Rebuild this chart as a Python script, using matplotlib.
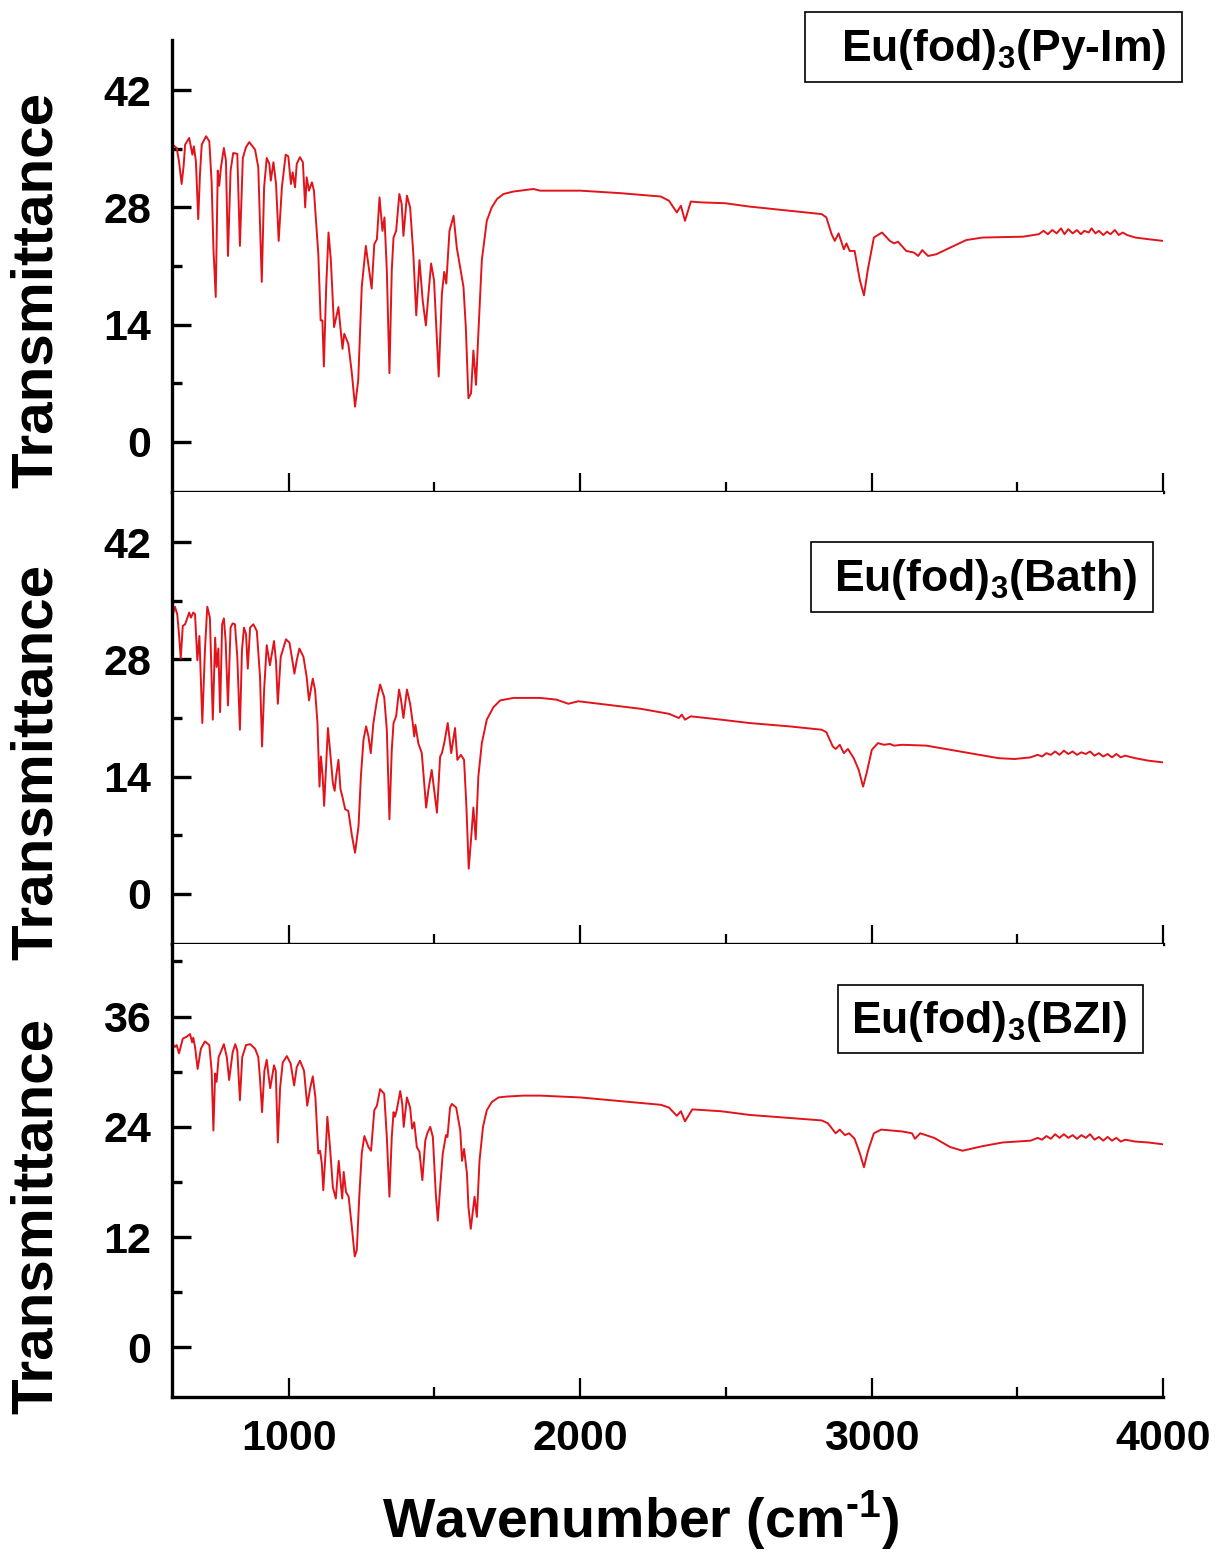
import matplotlib
matplotlib.use("Agg")
import matplotlib.pyplot as plt
from matplotlib.patches import Rectangle
from matplotlib.ticker import MultipleLocator

plt.rcParams["font.family"] = ["Liberation Sans", "DejaVu Sans"]
plt.rcParams["font.weight"] = "bold"
plt.rcParams["mathtext.fontset"] = "custom"
plt.rcParams["mathtext.rm"] = "Liberation Sans:bold"
plt.rcParams["mathtext.it"] = "Liberation Sans:bold"
plt.rcParams["mathtext.bf"] = "Liberation Sans:bold"

# ---- spectra (wavenumber cm-1, transmittance) ----
pyim_x = [600, 602, 616, 624, 633, 640, 645, 659, 670, 675, 682, 690, 696, 702, 717, 728, 736, 742, 750,
          757, 762, 768, 778, 785, 792, 801, 810, 824, 833, 843, 854, 865, 885, 896, 908, 916, 925, 934,
          939, 948, 957, 966, 977, 990, 999, 1008, 1014, 1022, 1028, 1039, 1049, 1057, 1062, 1070, 1080,
          1087, 1102, 1110, 1116, 1121, 1129, 1137, 1145, 1156, 1171, 1185, 1191, 1205, 1217, 1228, 1239,
          1251, 1265, 1285, 1294, 1303, 1312, 1322, 1329, 1337, 1346, 1354, 1360, 1369, 1380, 1388, 1394,
          1406, 1417, 1428, 1438, 1449, 1460, 1471, 1480, 1489, 1499, 1515, 1526, 1534, 1541, 1552, 1566,
          1577, 1600, 1608, 1617, 1626, 1634, 1643, 1651, 1663, 1680, 1697, 1715, 1737, 1772, 1840, 1863,
          2001, 2139, 2277, 2305, 2332, 2346, 2360, 2380, 2415, 2498, 2581, 2691, 2829, 2845, 2863, 2874,
          2887, 2905, 2914, 2925, 2942, 2960, 2974, 2987, 3008, 3036, 3063, 3077, 3091, 3119, 3146, 3160,
          3174, 3194, 3222, 3270, 3325, 3381, 3519, 3574, 3590, 3605, 3620, 3635, 3650, 3662, 3675, 3690,
          3705, 3718, 3730, 3745, 3755, 3768, 3780, 3795, 3808, 3820, 3835, 3848, 3862, 3877, 3905, 3950,
          4000]
pyim_y = [35.5, 35.5, 35.1, 33.5, 30.8, 33.0, 35.5, 36.3, 34.3, 35.3, 33.5, 26.6, 32.0, 35.5, 36.5, 35.9,
          31.0, 23.2, 17.3, 32.4, 30.6, 32.8, 35.1, 33.6, 22.2, 32.4, 34.5, 34.4, 23.4, 33.9, 35.2, 35.8,
          34.9, 32.8, 19.1, 30.4, 33.9, 33.2, 31.2, 33.4, 30.8, 24.0, 30.4, 34.3, 34.1, 30.8, 32.2, 30.4,
          33.2, 34.0, 33.4, 28.0, 31.6, 30.0, 31.0, 30.0, 22.4, 14.5, 14.5, 9.0, 18.5, 25.0, 21.7, 13.7,
          16.1, 11.1, 12.9, 11.7, 8.2, 4.2, 7.4, 18.5, 23.4, 18.3, 23.6, 24.2, 29.2, 25.2, 26.8, 20.5, 8.2,
          20.5, 24.4, 25.2, 29.6, 28.4, 24.6, 29.4, 28.0, 22.4, 15.1, 21.7, 16.9, 13.9, 17.7, 21.3, 19.3,
          7.8, 17.7, 20.3, 18.9, 25.2, 27.0, 23.2, 18.5, 13.7, 5.2, 5.8, 10.9, 6.8, 12.9, 21.7, 26.4, 28.0,
          29.0, 29.6, 29.9, 30.2, 30.0, 30.0, 29.7, 29.3, 28.8, 27.4, 28.2, 26.4, 28.7, 28.6, 28.5, 28.1,
          27.7, 27.2, 26.8, 24.8, 24.0, 24.9, 23.0, 23.7, 22.8, 22.8, 19.3, 17.5, 20.5, 24.4, 25.0, 24.0,
          23.7, 23.9, 22.8, 22.6, 22.2, 22.9, 22.2, 22.4, 23.2, 24.1, 24.4, 24.5, 24.8, 25.2, 24.8, 25.3,
          24.9, 25.5, 24.8, 25.4, 24.9, 25.3, 24.8, 25.2, 25.0, 25.5, 24.9, 25.2, 24.7, 25.1, 24.8, 25.3,
          24.7, 25.0, 24.7, 24.4, 24.2, 24.0]

bath_x = [600, 602, 610, 618, 624, 630, 637, 645, 659, 665, 673, 679, 687, 694, 704, 713, 721, 730, 740,
          748, 753, 759, 765, 772, 778, 784, 792, 801, 808, 816, 824, 833, 840, 847, 854, 860, 868, 879,
          891, 902, 909, 916, 925, 936, 950, 957, 963, 973, 991, 1003, 1011, 1020, 1028, 1037, 1051, 1062,
          1070, 1083, 1091, 1099, 1106, 1111, 1117, 1122, 1129, 1135, 1142, 1152, 1158, 1163, 1171, 1178,
          1186, 1194, 1205, 1217, 1228, 1240, 1248, 1257, 1266, 1274, 1282, 1291, 1303, 1314, 1328, 1337,
          1346, 1354, 1360, 1369, 1379, 1386, 1394, 1406, 1417, 1426, 1431, 1435, 1445, 1457, 1472, 1480,
          1491, 1499, 1509, 1520, 1526, 1534, 1546, 1558, 1571, 1579, 1591, 1602, 1610, 1618, 1626, 1634,
          1642, 1651, 1663, 1680, 1703, 1726, 1772, 1818, 1863, 1918, 1960, 1994, 2112, 2208, 2305, 2339,
          2349, 2360, 2380, 2484, 2581, 2718, 2829, 2845, 2867, 2877, 2891, 2905, 2919, 2939, 2956, 2971,
          2983, 3001, 3022, 3043, 3063, 3077, 3105, 3188, 3270, 3353, 3436, 3491, 3546, 3570, 3585, 3600,
          3615, 3630, 3645, 3660, 3675, 3690, 3705, 3720, 3735, 3750, 3765, 3780, 3795, 3810, 3825, 3840,
          3855, 3870, 3905, 3950, 4000]
bath_y = [33.5, 33.2, 34.3, 33.4, 31.0, 28.1, 32.0, 32.2, 33.6, 33.0, 33.6, 33.4, 27.9, 30.8, 20.4, 29.1,
          34.3, 33.0, 20.8, 30.6, 27.1, 29.3, 21.7, 32.2, 32.9, 30.2, 22.5, 31.8, 32.3, 32.2, 28.3, 19.6,
          29.1, 31.8, 31.0, 26.9, 31.8, 32.2, 31.4, 25.9, 17.6, 24.3, 29.7, 27.3, 30.2, 27.7, 22.7, 28.3,
          30.4, 30.0, 28.3, 26.3, 27.9, 29.3, 28.3, 25.9, 23.1, 25.7, 24.3, 20.4, 12.8, 16.4, 14.0, 10.5,
          15.6, 19.8, 17.2, 13.2, 12.3, 14.0, 16.0, 12.5, 11.4, 10.1, 9.9, 7.0, 4.9, 8.1, 14.0, 18.4, 20.0,
          18.8, 16.8, 20.4, 23.1, 25.0, 23.5, 19.6, 8.9, 17.2, 20.4, 21.2, 24.4, 23.1, 21.0, 24.4, 22.7,
          20.4, 18.8, 20.2, 18.0, 16.8, 10.3, 12.5, 14.8, 12.5, 9.7, 16.4, 16.8, 18.0, 20.4, 16.8, 19.8,
          16.0, 16.6, 16.0, 10.5, 3.0, 6.5, 10.3, 6.5, 14.0, 18.0, 20.8, 22.3, 23.1, 23.4, 23.4, 23.4,
          23.2, 22.7, 23.0, 22.5, 22.1, 21.5, 21.0, 21.4, 20.8, 21.2, 20.8, 20.4, 20.0, 19.6, 19.3, 17.6,
          17.3, 17.8, 16.8, 17.3, 16.2, 14.8, 12.8, 14.4, 17.2, 18.0, 17.8, 17.9, 17.7, 17.8, 17.7, 17.2,
          16.7, 16.2, 16.1, 16.3, 16.6, 16.4, 16.8, 16.6, 17.0, 16.6, 17.1, 16.7, 17.0, 16.6, 16.9, 16.7,
          17.0, 16.5, 16.8, 16.4, 16.7, 16.3, 16.7, 16.3, 16.5, 16.2, 15.9, 15.7]

bzi_x = [600, 602, 610, 616, 624, 637, 650, 662, 669, 673, 679, 688, 699, 713, 728, 736, 742, 748, 753,
         760, 768, 778, 788, 796, 803, 808, 817, 824, 833, 841, 854, 868, 885, 896, 902, 909, 917, 925,
         932, 937, 950, 956, 963, 971, 980, 994, 1007, 1019, 1028, 1039, 1053, 1064, 1074, 1083, 1092,
         1102, 1108, 1114, 1119, 1128, 1133, 1142, 1152, 1162, 1172, 1179, 1184, 1189, 1197, 1206, 1217,
         1227, 1234, 1243, 1251, 1260, 1274, 1283, 1294, 1303, 1314, 1328, 1337, 1346, 1354, 1360, 1365,
         1371, 1383, 1390, 1395, 1406, 1417, 1424, 1431, 1440, 1449, 1459, 1469, 1476, 1486, 1495, 1505,
         1512, 1520, 1529, 1540, 1545, 1554, 1560, 1575, 1589, 1595, 1602, 1612, 1617, 1625, 1631, 1638,
         1646, 1655, 1667, 1680, 1697, 1720, 1749, 1806, 1863, 2001, 2139, 2277, 2305, 2332, 2346, 2360,
         2385, 2484, 2581, 2829, 2850, 2877, 2891, 2909, 2923, 2942, 2960, 2974, 2988, 3008, 3033, 3105,
         3139, 3149, 3167, 3215, 3270, 3312, 3381, 3450, 3546, 3570, 3585, 3600, 3615, 3630, 3645, 3660,
         3675, 3690, 3705, 3720, 3735, 3750, 3765, 3780, 3795, 3810, 3825, 3840, 3855, 3870, 3905, 3950,
         4000]
bzi_y = [33.0, 33.0, 32.7, 32.9, 32.0, 33.6, 33.8, 34.1, 33.2, 33.7, 32.7, 30.3, 32.5, 33.3, 32.9, 30.1,
         23.6, 29.8, 28.9, 31.6, 32.2, 33.0, 31.6, 29.1, 30.9, 32.1, 33.0, 32.3, 26.9, 31.6, 32.9, 33.0,
         32.5, 31.6, 29.2, 25.6, 30.1, 31.3, 29.4, 28.2, 30.7, 30.1, 22.3, 28.3, 31.0, 31.7, 30.9, 28.5,
         30.5, 31.2, 30.1, 26.3, 28.2, 29.5, 27.2, 21.1, 21.4, 20.0, 17.1, 21.8, 25.1, 21.8, 17.4, 16.2,
         20.3, 17.8, 16.2, 19.1, 16.9, 16.4, 13.1, 9.9, 10.6, 16.7, 21.1, 23.0, 21.8, 21.4, 25.8, 26.3,
         28.1, 27.6, 22.9, 16.4, 22.9, 25.6, 25.1, 25.8, 27.9, 26.5, 24.0, 27.2, 26.1, 23.8, 24.5, 21.8,
         21.3, 18.2, 22.5, 23.3, 24.0, 22.9, 16.7, 13.8, 17.4, 21.1, 23.1, 22.9, 26.1, 26.5, 26.1, 23.6,
         20.3, 21.6, 18.9, 15.3, 12.9, 14.5, 16.4, 14.2, 20.3, 24.0, 25.8, 26.7, 27.2, 27.3, 27.4, 27.4,
         27.2, 26.8, 26.4, 26.1, 25.2, 25.7, 24.6, 25.9, 25.7, 25.3, 24.7, 24.4, 23.3, 23.7, 23.1, 23.3,
         22.7, 21.1, 19.6, 21.4, 23.3, 23.7, 23.5, 23.3, 22.7, 23.3, 22.8, 21.8, 21.4, 21.9, 22.3, 22.5,
         22.8, 22.6, 23.0, 22.7, 23.2, 22.8, 23.2, 22.8, 23.1, 22.7, 23.1, 22.8, 23.2, 22.6, 22.9, 22.5,
         22.9, 22.5, 22.8, 22.4, 22.6, 22.4, 22.3, 22.1]

names = [r"Eu(fod)$_3$(Py-Im)", r"Eu(fod)$_3$(Bath)", r"Eu(fod)$_3$(BZI)"]
spectra = [(pyim_x, pyim_y), (bath_x, bath_y), (bzi_x, bzi_y)]
y_limits = [(-6, 48), (-6, 48), (-5.4, 43.9)]
y_steps = [14, 14, 12]
x_ticks = [1000, 2000, 3000, 4000]

W, H = 1216, 1553
fig = plt.figure(figsize=(W / 100, H / 100), dpi=100)

# panel edges in pixels (top, bottom), legend boxes (x0, y0, x1, y1), label centres
panels = [(40, 492), (492, 944), (944, 1397)]
boxes = [(805, 12, 1182, 82), (811, 542, 1153, 612), (838, 985, 1143, 1053)]
ylabel_y = [290, 762, 1216]
red = "#e2141b"

for i, ((top, bot), (xs, ys)) in enumerate(zip(panels, spectra)):
    ax = fig.add_axes([172 / W, 1 - bot / H, (1163 - 172) / W, (bot - top) / H])
    ax.plot(xs, ys, color=red, lw=1.4)
    ax.set_xlim(600, 4000)
    ax.set_ylim(*y_limits[i])
    for s in ("top", "right"):
        ax.spines[s].set_visible(False)
    for s in ("left", "bottom"):
        ax.spines[s].set_linewidth(2.4)
    ax.xaxis.set_major_locator(MultipleLocator(1000))
    ax.xaxis.set_minor_locator(MultipleLocator(500))
    ax.yaxis.set_major_locator(MultipleLocator(y_steps[i]))
    ax.yaxis.set_minor_locator(MultipleLocator(y_steps[i] / 2))
    ax.tick_params(axis="y", which="both", direction="in", width=2.4, labelsize=31, pad=15)
    ax.tick_params(axis="y", which="major", length=14)
    ax.tick_params(axis="y", which="minor", length=7)
    ax.tick_params(axis="x", which="both", direction="in", width=1.6, labelsize=31, pad=16)
    ax.tick_params(axis="x", which="major", length=14)
    ax.tick_params(axis="x", which="minor", length=7)
    ax.set_xticks(x_ticks)
    if i < 2:
        ax.set_xticklabels([])
    for lab in ax.get_xticklabels() + ax.get_yticklabels():
        lab.set_fontweight("bold")

    x0, y0, x1, y1 = boxes[i]
    fig.patches.append(Rectangle((x0 / W, 1 - y1 / H), (x1 - x0) / W, (y1 - y0) / H,
                                 transform=fig.transFigure, fill=False, lw=1.2, ec="black"))
    fig.text((x1 - 16) / W, 1 - ((y0 + y1) / 2 + 2) / H, names[i], ha="right", va="center",
             fontsize=32, fontweight="bold")
    fig.text(37 / W, 1 - ylabel_y[i] / H, "Transmittance", rotation=90, ha="center",
             va="center", fontsize=42, fontweight="bold")

fig.text(640 / W, 1 - 1520 / H, r"Wavenumber (cm$^{\text{-1}}$)", ha="center", va="center",
         fontsize=40, fontweight="bold")

fig.savefig("out.png", dpi=100)
